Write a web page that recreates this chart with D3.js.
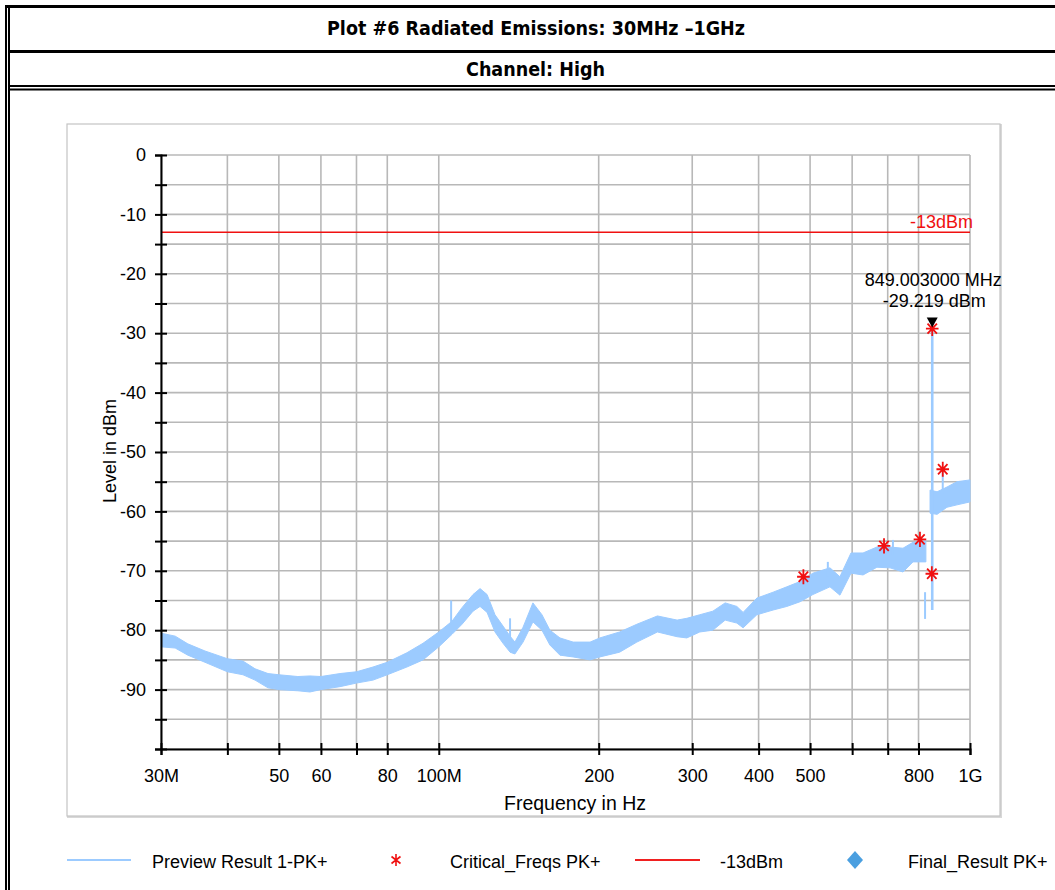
<!DOCTYPE html>
<html><head><meta charset="utf-8">
<script src="https://cdn.jsdelivr.net/npm/d3@7"></script>
<style>
body{margin:0;background:#fff}
svg text{font-family:"Liberation Sans",Arial,sans-serif}
</style>
</head><body>
<svg id="c" width="1055" height="890"></svg>
<script>
// ---------- text ----------
const titleText = "Plot #6 Radiated Emissions: 30MHz \u20131GHz";
const subtitleText = "Channel: High";
const xAxisTitle = "Frequency in Hz";
const yAxisTitle = "Level in dBm";

// ---------- ticks ----------
const xTickValuesMHz = [30,40,50,60,70,80,100,200,300,400,500,600,700,800,1000];
const xLabelValuesMHz = [30,50,60,80,100,200,300,400,500,800,1000];
const xLabelTexts = ["30M","50","60","80","100M","200","300","400","500","800","1G"];
const yTickValues = [0,-5,-10,-15,-20,-25,-30,-35,-40,-45,-50,-55,-60,-65,-70,-75,-80,-85,-90,-95,-100];
const yLabelValues = [0,-10,-20,-30,-40,-50,-60,-70,-80,-90];

// ---------- Preview Result 1-PK+ (envelope) ----------
const seg1FreqMHz = [30,31.9,33.7,36.3,40,42.8,45.1,47.7,50,54.3,57.2,60,65.2,70,75.2,80,87.1,93.4,100,105.9,110.6,116,119.6,123.3,127.6,132.1,136.2,139.1,144.1,150.4,156.4,161.9,169.1,179,192.7,201,219,236,258,281,293,310,328,346,364,374,397,426,452,479,506,545,569,597,629,668,707,748,781,826];
const seg1Upper = [-80.5,-81.0,-82.3,-83.5,-84.8,-85.2,-86.5,-87.3,-87.5,-87.8,-87.7,-87.8,-87.3,-87.0,-86.2,-85.4,-83.8,-82.2,-80.3,-78.5,-76.2,-74.0,-73.0,-74.0,-77.4,-79.3,-81.0,-82.0,-79.5,-75.4,-77.4,-80.0,-81.3,-82.0,-82.0,-81.3,-80.3,-79.0,-77.6,-78.3,-78.0,-77.4,-76.8,-75.4,-76.0,-77.0,-74.6,-73.6,-72.7,-71.8,-70.4,-69.5,-71.0,-67.0,-67.0,-66.0,-66.0,-66.2,-65.2,-65.0];
const seg1Lower = [-82.8,-83.0,-84.2,-85.4,-87.0,-87.5,-88.4,-89.7,-90.0,-90.2,-90.4,-90.0,-89.5,-88.9,-88.4,-87.5,-86.2,-85.0,-82.8,-80.7,-79.0,-76.8,-76.0,-77.0,-80.3,-82.2,-83.7,-84.0,-82.0,-78.6,-80.0,-82.5,-84.2,-84.5,-85.0,-84.5,-83.7,-82.0,-80.3,-81.1,-81.3,-80.3,-80.0,-78.3,-78.8,-79.6,-77.4,-76.6,-76.0,-75.2,-74.0,-72.7,-74.1,-70.4,-70.7,-69.4,-69.5,-70.2,-68.5,-68.5];
const seg2FreqMHz = [841,867,905,945,1000];
const seg2Upper = [-56.4,-56.7,-55.9,-55.0,-54.7];
const seg2Lower = [-60.3,-60.5,-59.3,-58.9,-58.4];
const spikeFreqMHz = [105.5,136.2,540,716,823,849.003,888.6];
const spikeTop = [-75.0,-78.0,-68.5,-64.8,-73.6,-29.219,-53.4];
const spikeBottom = [-79.0,-82.0,-71.0,-67.5,-78.1,-76.6,-57.0];

// ---------- Critical_Freqs PK+ ----------
const critFreqMHz = [485.7,688.9,805.0,847.5,849.003,888.6];
const critLevel = [-71.0,-65.8,-64.7,-70.5,-29.219,-52.9];

// ---------- limit & marker ----------
const limitLevel = -13;
const limitLabel = "-13dBm";
const markerFreqMHz = 849.003;
const markerLevel = -29.219;
const markerText1 = "849.003000 MHz";
const markerText2 = "-29.219 dBm";

// ---------- legend ----------
const legendLabels = ["Preview Result 1-PK+","Critical_Freqs PK+","-13dBm","Final_Result PK+"];

const traceColor = "#9ccbff";
const svg = d3.select("#c");

// frame
const frame = svg.append("g");
frame.append("rect").attr("x",5).attr("y",5).attr("width",1050).attr("height",3).attr("fill","#000");
frame.append("rect").attr("x",5).attr("y",5).attr("width",2).attr("height",885).attr("fill","#000");
frame.append("rect").attr("x",8).attr("y",8).attr("width",2).attr("height",882).attr("fill","#000");
frame.append("rect").attr("x",8).attr("y",50).attr("width",1047).attr("height",3).attr("fill","#000");
frame.append("rect").attr("x",8).attr("y",85).attr("width",1047).attr("height",2).attr("fill","#000");
frame.append("rect").attr("x",8).attr("y",88.5).attr("width",1047).attr("height",2).attr("fill","#000");

const narrow = '"Liberation Sans Narrow","Arial Narrow","DejaVu Sans Condensed",sans-serif';
svg.append("text").attr("x",536).attr("y",35).attr("text-anchor","middle")
  .style("font-family",narrow).attr("font-weight","bold").attr("font-size",19)
  .attr("textLength",418).attr("lengthAdjust","spacingAndGlyphs").text(titleText);
svg.append("text").attr("x",535.5).attr("y",76).attr("text-anchor","middle")
  .style("font-family",narrow).attr("font-weight","bold").attr("font-size",19)
  .attr("textLength",139).attr("lengthAdjust","spacingAndGlyphs").text(subtitleText);

// chart panel
svg.append("rect").attr("x",68).attr("y",125).attr("width",933).attr("height",692)
  .attr("fill","none").attr("stroke","#d8d8d8").attr("stroke-width",2);
svg.append("rect").attr("x",67).attr("y",124).attr("width",933).attr("height",692)
  .attr("fill","#fff").attr("stroke","#c4c4c4").attr("stroke-width",1.2);

const x = d3.scaleLog().domain([30e6,1e9]).range([161,970]);
const y = d3.scaleLinear().domain([-100,0]).range([749,155]);
const M = 1e6;

// grid
const grid = svg.append("g").attr("stroke","#b8b8b8").attr("stroke-width",1.6);
grid.selectAll("line.v").data(xTickValuesMHz).join("line")
  .attr("x1",d=>x(d*M)).attr("x2",d=>x(d*M)).attr("y1",y(0)).attr("y2",y(-100));
grid.selectAll("line.h").data(yTickValues).join("line").attr("class","h")
  .attr("x1",x(30e6)).attr("x2",x(1e9)).attr("y1",d=>y(d)).attr("y2",d=>y(d));

// limit line
svg.append("line").attr("x1",x(30e6)).attr("x2",x(1e9)).attr("y1",y(limitLevel)).attr("y2",y(limitLevel))
  .attr("stroke","#f01010").attr("stroke-width",1.5);
svg.append("text").attr("x",973).attr("y",228).attr("text-anchor","end").attr("font-size",18)
  .attr("fill","#f01010").text(limitLabel);

// trace
const area = d3.area().x(d=>x(d.f*M)).y0(d=>y(d.lo)).y1(d=>y(d.hi));
const seg1 = seg1FreqMHz.map((f,i)=>({f,hi:seg1Upper[i],lo:seg1Lower[i]}));
const seg2 = seg2FreqMHz.map((f,i)=>({f,hi:seg2Upper[i],lo:seg2Lower[i]}));
[seg1,seg2].forEach(s=>svg.append("path").attr("d",area(s)).attr("fill",traceColor)
  .attr("stroke",traceColor).attr("stroke-width",1));
svg.append("g").selectAll("line").data(spikeFreqMHz).join("line")
  .attr("x1",d=>x(d*M)).attr("x2",d=>x(d*M))
  .attr("y1",(d,i)=>y(spikeTop[i])).attr("y2",(d,i)=>y(spikeBottom[i]))
  .attr("stroke",traceColor).attr("stroke-width",(d,i)=>spikeTop[i]>-40?2.6:2);

// axes
const yAxis = d3.axisLeft(y).tickValues(yTickValues).tickSizeOuter(0).tickSize(6)
  .tickPadding(9).tickFormat(d=>yLabelValues.includes(d)?String(d):"");
const gy = svg.append("g").attr("transform",`translate(${x(30e6)},0)`).call(yAxis);
gy.selectAll(".tick line").attr("x1",6).attr("stroke","#000").attr("stroke-width",2);
gy.select(".domain").attr("stroke","#000").attr("stroke-width",2);
gy.selectAll(".tick text").attr("font-size",18).attr("font-family",null).attr("fill","#000");

const xAxis = d3.axisBottom(x).tickValues(xTickValuesMHz.map(d=>d*M)).tickSizeOuter(0).tickSize(6)
  .tickFormat(d=>{const i=xLabelValuesMHz.indexOf(Math.round(d/M));return i>=0?xLabelTexts[i]:"";});
const gx = svg.append("g").attr("transform",`translate(0,${y(-100)})`).call(xAxis);
gx.selectAll(".tick line").attr("y1",-6).attr("stroke","#000").attr("stroke-width",2);
gx.select(".domain").attr("stroke","#000").attr("stroke-width",2);
gx.selectAll(".tick text").attr("font-size",18).attr("font-family",null).attr("fill","#000")
  .attr("y",33).attr("dy",0);

svg.append("text").attr("x",575).attr("y",810).attr("text-anchor","middle").attr("font-size",19.5).text(xAxisTitle);
svg.append("text").attr("transform","translate(116,451) rotate(-90)").attr("text-anchor","middle")
  .attr("font-size",18).text(yAxisTitle);

// critical stars
const starPath = (s)=>`M${-s},0H${s}M0,${-s*1.2}V${s*1.2}M${-s*0.75},${-s*0.8}L${s*0.75},${s*0.8}M${-s*0.75},${s*0.8}L${s*0.75},${-s*0.8}`;
svg.append("g").selectAll("path").data(critFreqMHz).join("path")
  .attr("transform",(d,i)=>`translate(${x(d*M)},${y(critLevel[i])})`)
  .attr("d",starPath(6.3)).attr("stroke","#f01010").attr("stroke-width",1.8).attr("fill","none");

// marker
const mx = x(markerFreqMHz*M), my = y(markerLevel);
svg.append("path").attr("d",`M${mx-5.5},${my-11}L${mx+5.5},${my-11}L${mx},${my-1}Z`).attr("fill","#000");
svg.append("text").attr("x",mx+1).attr("y",286).attr("text-anchor","middle").attr("font-size",18).text(markerText1);
svg.append("text").attr("x",mx+2).attr("y",307).attr("text-anchor","middle").attr("font-size",18).text(markerText2);

// legend
const lg = svg.append("g");
lg.append("line").attr("x1",67).attr("x2",131).attr("y1",860).attr("y2",860).attr("stroke",traceColor).attr("stroke-width",2.2);
lg.append("text").attr("x",152).attr("y",868).attr("font-size",18).text(legendLabels[0]);
lg.append("path").attr("transform","translate(396,860)").attr("d",`M0,-6V6M-4.5,-3.5L4.5,3.5M-4.5,3.5L4.5,-3.5`)
  .attr("stroke","#f01010").attr("stroke-width",1.6).attr("fill","none");
lg.append("text").attr("x",450).attr("y",868).attr("font-size",18).text(legendLabels[1]);
lg.append("line").attr("x1",635).attr("x2",700).attr("y1",860).attr("y2",860).attr("stroke","#f02020").attr("stroke-width",2.2);
lg.append("text").attr("x",720).attr("y",868).attr("font-size",18).text(legendLabels[2]);
lg.append("path").attr("d","M855,851L863,860L855,869L847,860Z").attr("fill","#4a9fe0");
lg.append("text").attr("x",908).attr("y",868).attr("font-size",18).text(legendLabels[3]);
</script>
</body></html>
